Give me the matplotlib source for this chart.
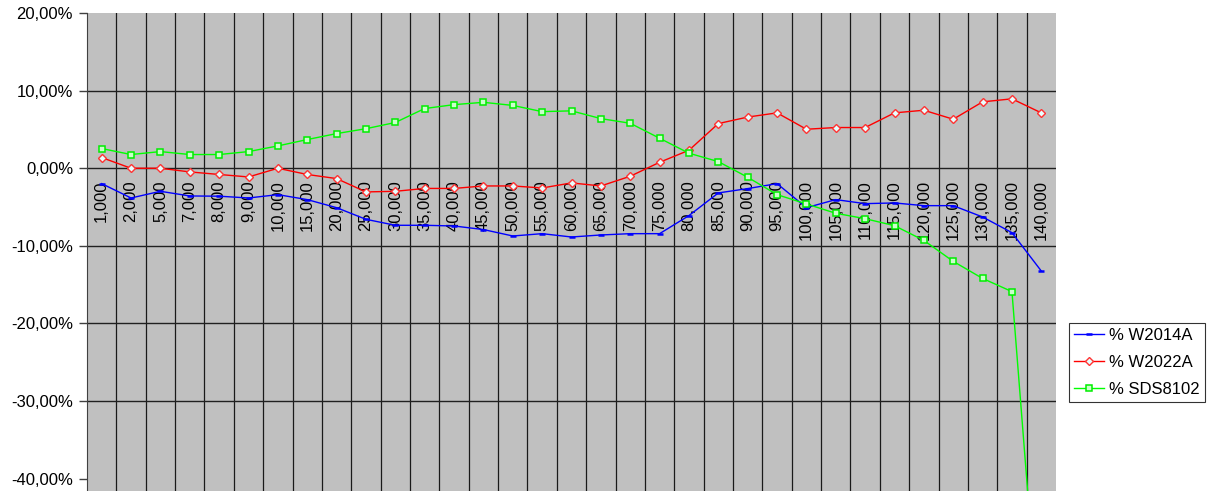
import matplotlib
matplotlib.use("Agg")
import matplotlib.pyplot as plt
from matplotlib.ticker import FuncFormatter

plt.rcParams['font.family'] = ['Liberation Sans', 'DejaVu Sans']

# categories on the x axis
categories = ["1,000", "2,000", "5,000", "7,000", "8,000", "9,000", "10,000",
              "15,000", "20,000", "25,000", "30,000", "35,000", "40,000",
              "45,000", "50,000", "55,000", "60,000", "65,000", "70,000",
              "75,000", "80,000", "85,000", "90,000", "95,000", "100,000",
              "105,000", "110,000", "115,000", "120,000", "125,000", "130,000",
              "135,000", "140,000"]

# values in percent
w2014a = [-1.98, -3.83, -2.97, -3.57, -3.6, -3.83, -3.4, -4.04, -5.08, -6.58,
          -7.35, -7.35, -7.44, -7.9, -8.73, -8.43, -8.86, -8.6, -8.43, -8.43,
          -6.1, -3.18, -2.62, -1.98, -5.08, -4.04, -4.56, -4.47, -4.82, -4.82,
          -6.28, -8.3, -13.25]
w2022a = [1.38, 0.0, 0.0, -0.47, -0.8, -1.12, 0.0, -0.8, -1.33, -3.05,
          -2.97, -2.6, -2.6, -2.28, -2.28, -2.54, -1.89, -2.28, -1.03, 0.77,
          2.32, 5.76, 6.6, 7.14, 5.03, 5.25, 5.25, 7.14, 7.48, 6.32,
          8.56, 8.95, 7.14]
sds8102 = [2.54, 1.77, 2.15, 1.77, 1.77, 2.15, 2.88, 3.7, 4.47, 5.1,
           5.9, 7.7, 8.2, 8.5, 8.1, 7.3, 7.4, 6.4, 5.8, 3.87,
           1.94, 0.86, -1.16, -3.4, -4.6, -5.8, -6.5, -7.4, -9.3, -12.0,
           -14.2, -15.9, -64.0]

series_names = ["% W2014A", "% W2022A", "% SDS8102"]

fig = plt.figure(figsize=(12.14, 4.91), dpi=100)
ax = fig.add_axes([87 / 1214, 0.0, (1056 - 87) / 1214, 1 - 13.1 / 491])
ax.set_facecolor("#C0C0C0")

n = len(categories)
xs = list(range(n))

ax.set_xlim(-0.5, n - 0.5)
ax.set_ylim(-41.6, 20)

# grid: vertical lines at category boundaries, horizontal at each 10 %
for k in range(1, n):
    ax.axvline(k - 0.5, color="#1a1a1a", lw=0.9, zorder=1)
for v in range(-30, 20, 10):
    ax.axhline(v, color="#202020", lw=1.0, zorder=1)

ax.plot(xs, w2014a, color="#0000FF", lw=1.0, marker="_", markersize=5,
        markeredgewidth=1.8, markeredgecolor="#0000FF", label=series_names[0], zorder=3)
ax.plot(xs, w2022a, color="#FF0000", lw=1.0, marker="D", markersize=4,
        markerfacecolor="#E6FFFF", markeredgecolor="#FF3333", markeredgewidth=1,
        label=series_names[1], zorder=3)
ax.plot(xs, sds8102, color="#00FF00", lw=1.0, marker="s", markersize=4.8,
        markerfacecolor="#CCFFCC", markeredgecolor="#00EE00", markeredgewidth=1.1,
        label=series_names[2], zorder=3)

# category labels sit just below the zero line
for i, lab in enumerate(categories):
    ax.annotate(lab, xy=(i, 0), xytext=(0, -12), textcoords="offset pixels",
                rotation=90, ha="center", va="top", fontsize=12, color="black",
                zorder=2)

ax.set_xticks([])
ax.set_yticks(range(-40, 21, 10))
ax.yaxis.set_major_formatter(FuncFormatter(lambda v, p: f"{v:.2f}%".replace(".", ",")))
ax.tick_params(axis="y", direction="out", length=6, width=1, color="#404040",
               labelsize=12, pad=4)

for side in ["top", "right", "bottom"]:
    ax.spines[side].set_visible(False)
ax.spines["left"].set_color("#404040")

leg = fig.legend(loc="upper left", bbox_to_anchor=(1069 / 1214, 1 - 323 / 491),
                 fontsize=12, frameon=True, fancybox=False, edgecolor="black",
                 handlelength=1.8, borderpad=0.3, labelspacing=0.72,
                 handletextpad=0.3, borderaxespad=0)
leg.get_frame().set_linewidth(0.8)

fig.savefig("out.png", dpi=100)
